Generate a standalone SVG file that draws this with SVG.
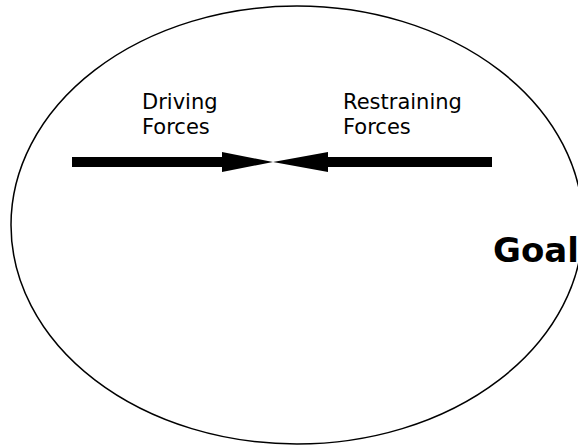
<svg xmlns="http://www.w3.org/2000/svg" width="578" height="446" viewBox="0 0 578 446">
<style>
.lbl{font-family:"DejaVu Sans",Verdana,sans-serif;font-size:21px;fill:#000}
.goal{font-family:"DejaVu Sans","Liberation Sans",sans-serif;font-weight:bold;font-size:34px;fill:#000}
.shaft{stroke:#000;stroke-width:10;fill:none}
</style>
<rect width="578" height="446" fill="#fff"/>
<g id="field">
<ellipse cx="297" cy="225" rx="286" ry="219" fill="none" stroke="#000" stroke-width="1.5"/>
</g>
<g id="driving">
<text class="lbl" x="142" y="109">Driving</text>
<text class="lbl" x="142" y="134">Forces</text>
</g>
<g id="restraining">
<text class="lbl" x="343" y="109">Restraining</text>
<text class="lbl" x="343" y="134">Forces</text>
</g>
<g id="goal">
<text class="goal" x="493" y="262">Goal</text>
</g>
<g id="connectors">
<line class="shaft" x1="72" y1="162" x2="224" y2="162"/>
<polygon points="222,152 273,162 222,172" fill="#000"/>
<line class="shaft" x1="492" y1="162" x2="326" y2="162"/>
<polygon points="328,152 273,162 328,172" fill="#000"/>
</g>
</svg>
